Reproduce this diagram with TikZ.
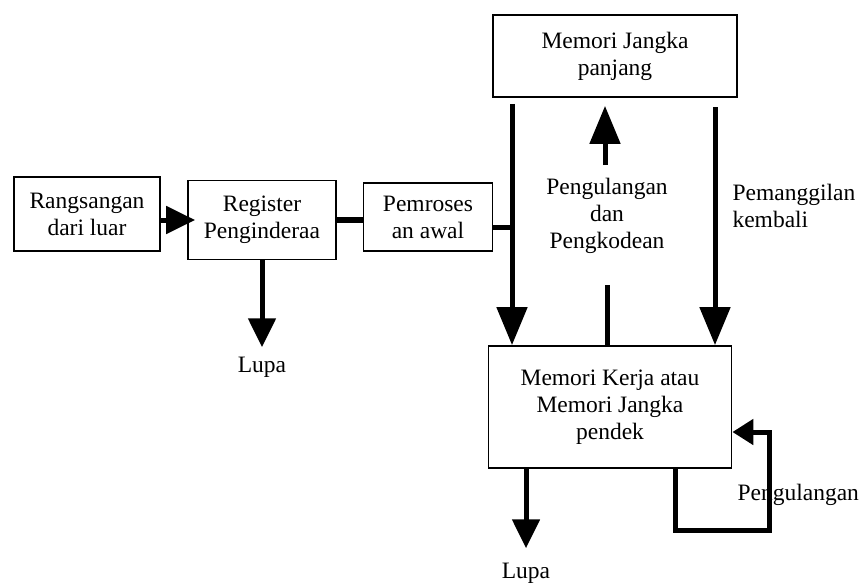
\documentclass[tikz,border=0pt]{standalone}
\usepackage{fontspec}
\setmainfont{Liberation Serif}
\usetikzlibrary{arrows.meta, positioning}

\begin{document}
\begin{tikzpicture}[
    x=1pt, y=-1pt,
    B/.style 2 args={rectangle, draw, line width=1.8pt, minimum width=#1, minimum height=#2,
              align=center, inner sep=2pt, font=\fontsize{23.5}{27}\selectfont},
    T/.style={align=center, font=\fontsize{23.5}{27}\selectfont},
    A/.style={-{Triangle[width=30pt, length=38pt]}, line width=5pt},
    S/.style={-{Triangle[width=27pt, length=29pt]}, line width=5pt},
    R/.style={-{Triangle[width=25pt, length=21pt]}, line width=5pt},
    P/.style={line width=5pt}
]
\useasboundingbox (0,0) rectangle (861,587);

% === INPUT ROW ===
\node[B={146pt}{74pt}] (rang) at (87,214) {Rangsangan\\dari luar};
\node[B={148pt}{79pt}] (reg) at (262,220) {Register\\Penginderaa};
\node[B={129pt}{68pt}] (pem) at (428,217) {Pemroses\\an awal};

\draw[S] (rang.east |- reg.west) -- ([xshift=8pt]reg.west);
\draw[P, line width=6pt] (reg.east) -- (reg.east -| pem.west);

\node[T] (lupa1) at (262,367) {Lupa};
\draw[S] (reg.south) -- ([yshift=6pt]lupa1.north);

% === MEMORY BOXES ===
\node[B={244pt}{82pt}] (mjp) at (615,56) {Memori Jangka\\panjang};
\node[B={243pt}{122pt}] (mk) at (610,407) {Memori Kerja atau\\Memori Jangka\\pendek};

% from pemroses into working memory
\coordinate (jl) at (512,227);
\draw[P] (pem.east |- jl) -- (jl);
\draw[A] ([yshift=-6pt]mjp.south -| jl) -- (mk.north -| jl);

% rehearsal and encoding
\coordinate (up) at (605,165);
\coordinate (upb) at (607,285);
\draw[A] (up) -- ([yshift=-8pt]mjp.south -| up);
\draw[P] (mk.north -| upb) -- (upb);
\node[T] (enc) at (607,216) {Pengulangan\\dan\\Pengkodean};

% retrieval
\coordinate (ret) at (715,107);
\draw[A] (ret) -- (mk.north -| ret);
\node[T, anchor=west, align=left] (retl) at (729,206) {Pemanggilan\\kembali};

% === BOTTOM ===
\node[T] (lupa2) at (526,573) {Lupa};
\draw[S] (mk.south -| lupa2) -- ([yshift=11pt]lupa2.north);

\node[T, anchor=west] (reh) at (734,495) {Pengulangan};
\coordinate (lp) at (675,530);
\coordinate (lq) at (769,432);
\draw[R] (mk.south -| lp) -- (lp) -| (lq) -- (mk.east |- lq);

\end{tikzpicture}
\end{document}
